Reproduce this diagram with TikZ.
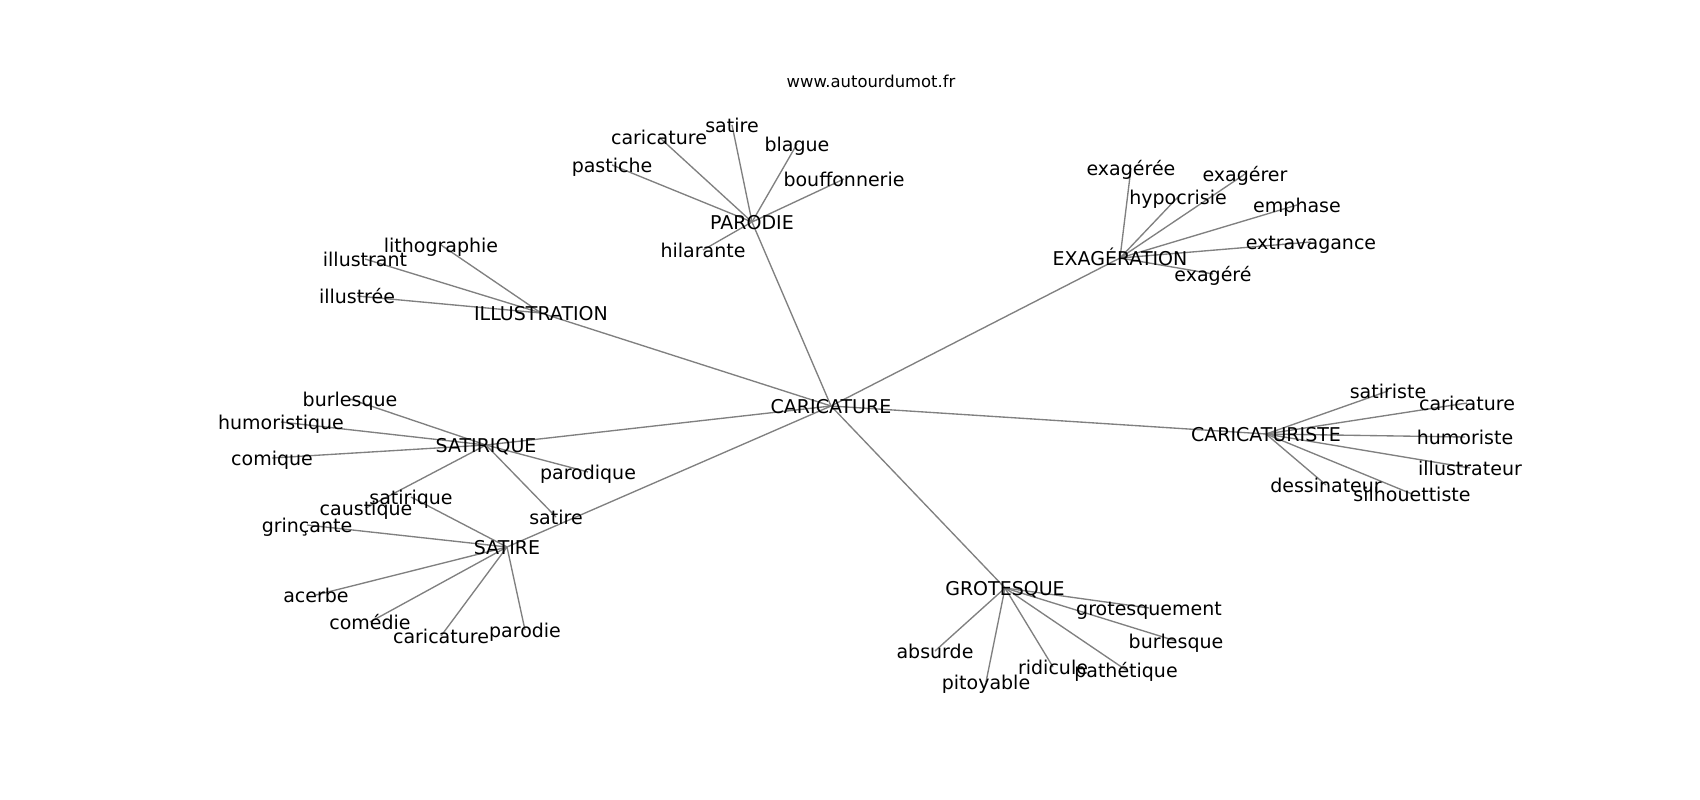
\documentclass[tikz,border=0pt]{standalone}
\usepackage{fontspec}
\setmainfont{DejaVu Sans}
\pgfdeclarelayer{bg}
\pgfsetlayers{bg,main}
\begin{document}
\begin{tikzpicture}[x=1pt,y=-1pt,
  word/.style={inner sep=0pt,outer sep=0pt,text height=14pt,text depth=0pt,anchor=center,font=\fontsize{19}{19}\selectfont},
  ttl/.style={inner sep=0pt,anchor=base,font=\fontsize{16.4}{16.4}\selectfont},
  link/.style={draw={rgb,1:red,0.5;green,0.5;blue,0.5},line width=1.35pt}]
\useasboundingbox (0,0) rectangle (1700,800);
\node[ttl] (title) at (871,88) {www.autourdumot.fr};
% hubs
\node[word] (car) at (831,406) {CARICATURE};
\node[word] (par) at (752,222) {PARODIE};
\node[word] (exa) at (1120,258) {EXAGÉRATION};
\node[word] (ill) at (541,313) {ILLUSTRATION};
\node[word] (stq) at (486,445) {SATIRIQUE};
\node[word] (str) at (507,547) {SATIRE};
\node[word] (cst) at (1266,434) {CARICATURISTE};
\node[word] (gro) at (1005,588) {GROTESQUE};
% PARODIE leaves
\node[word] (par1) at (732,125) {satire};
\node[word] (par2) at (659,137) {caricature};
\node[word] (par3) at (612,165) {pastiche};
\node[word] (par4) at (797,144) {blague};
\node[word] (par5) at (844,179) {bouffonnerie};
\node[word] (par6) at (703,250) {hilarante};
% EXAGERATION leaves
\node[word] (exa1) at (1131,168) {exagérée};
\node[word] (exa2) at (1178,197) {hypocrisie};
\node[word] (exa3) at (1245,174) {exagérer};
\node[word] (exa4) at (1297,205) {emphase};
\node[word] (exa5) at (1311,242) {extravagance};
\node[word] (exa6) at (1213,274) {exagéré};
% ILLUSTRATION leaves
\node[word] (ill1) at (441,245) {lithographie};
\node[word] (ill2) at (365,259) {illustrant};
\node[word] (ill3) at (357,296) {illustrée};
% SATIRIQUE leaves
\node[word] (stq1) at (350,399) {burlesque};
\node[word] (stq2) at (281,422) {humoristique};
\node[word] (stq3) at (272,458) {comique};
\node[word] (stq4) at (588,472) {parodique};
\node[word] (stq5) at (556,517) {satire};
\node[word] (stq6) at (366,508) {caustique};
% SATIRE leaves
\node[word] (str1) at (411,497) {satirique};
\node[word] (str2) at (307,525) {grinçante};
\node[word] (str3) at (316,595) {acerbe};
\node[word] (str4) at (370,622) {comédie};
\node[word] (str5) at (441,636) {caricature};
\node[word] (str6) at (525,630) {parodie};
% CARICATURISTE leaves
\node[word] (cst1) at (1388,391) {satiriste};
\node[word] (cst2) at (1467,403) {caricature};
\node[word] (cst3) at (1465,437) {humoriste};
\node[word] (cst4) at (1470,468) {illustrateur};
\node[word] (cst5) at (1326,485) {dessinateur};
\node[word] (cst6) at (1412,494) {silhouettiste};
% GROTESQUE leaves
\node[word] (gro1) at (1149,608) {grotesquement};
\node[word] (gro2) at (1176,641) {burlesque};
\node[word] (gro3) at (1126,670) {pathétique};
\node[word] (gro4) at (1053,667) {ridicule};
\node[word] (gro5) at (935,651) {absurde};
\node[word] (gro6) at (986,682) {pitoyable};
\begin{pgfonlayer}{bg}
\foreach \h in {par,exa,ill,stq,str,cst,gro}
  \draw[link] (car.center) -- (\h.center);
\foreach \h in {par,exa,stq,str,cst,gro}
  \foreach \i in {1,...,6}
    \draw[link] (\h.center) -- (\h\i.center);
\foreach \i in {1,2,3}
  \draw[link] (ill.center) -- (ill\i.center);
\end{pgfonlayer}
\end{tikzpicture}
\end{document}
